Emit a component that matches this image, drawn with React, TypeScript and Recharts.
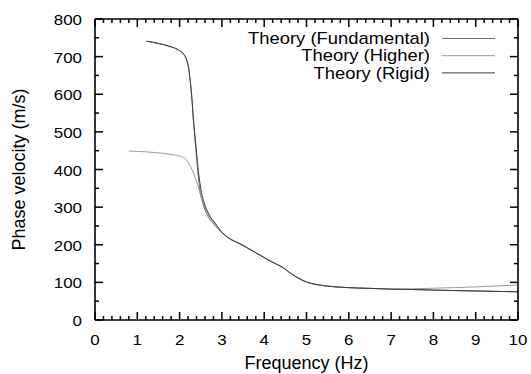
import React from 'react';
import { LineChart, Line, XAxis, YAxis } from 'recharts';

// dispersion curves: frequency (Hz) -> phase velocity (m/s)
const FUND_F = [1.22, 1.5, 1.8, 2.0, 2.1, 2.17, 2.22, 2.25, 2.29, 2.32, 2.36, 2.4, 2.44, 2.48, 2.55, 2.65, 2.8, 3.0, 3.2, 3.45, 3.7, 3.95, 4.15, 4.3, 4.45, 4.6, 4.75, 4.88, 5.0, 5.2, 5.5, 6.0, 6.5, 7.0, 7.5, 8.0, 9.0, 10.0];
const FUND_V = [741, 735, 726, 716, 706, 690, 665, 637, 590, 539, 485, 433, 385, 345, 310, 280, 256, 232, 215, 201, 185, 169, 156, 148, 139, 126, 115, 107, 101, 95, 90, 86, 84, 82, 81, 79.5, 77, 75];

const HIGH_F = [0.8, 1.2, 1.6, 1.9, 2.05, 2.2, 2.3, 2.38, 2.44, 2.5, 2.6, 2.7, 2.85, 3.0, 3.2, 3.45, 3.7, 3.95, 4.15, 4.3, 4.45, 4.6, 4.75, 4.88, 5.0, 5.2, 5.5, 6.0, 6.5, 7.0, 7.5, 8.0, 8.5, 9.0, 9.5, 10.0];
const HIGH_V = [449, 447, 443, 438, 434, 420, 398, 375, 355, 330, 300, 276, 253, 234, 216, 202, 186, 170, 157, 148, 139, 126, 115, 107, 101, 95, 90, 86, 84, 82.5, 83, 84.5, 86, 88, 90.5, 93];

const RIGID_F = [1.22, 1.5, 1.8, 2.0, 2.1, 2.17, 2.22, 2.25, 2.29, 2.33, 2.38, 2.43, 2.48, 2.53, 2.6, 2.7, 2.85, 3.0, 3.2, 3.45, 3.7, 3.95, 4.15, 4.3, 4.45, 4.6, 4.75, 4.88, 5.0, 5.2, 5.5, 6.0, 6.5, 7.0, 7.5, 8.0, 9.0, 10.0];
const RIGID_V = [741, 735, 726, 716, 706, 690, 665, 637, 590, 530, 470, 410, 365, 332, 305, 280, 256, 233, 215, 201, 185, 169, 156, 148, 139, 126, 115, 107, 101, 95, 90, 86, 84, 82, 81, 79.5, 77, 75];

const SERIES_NAMES = ['Theory (Fundamental)', 'Theory (Higher)', 'Theory (Rigid)'];
const SERIES_COLORS = ['#6e6e6e', '#9a9a9a', '#3c3c3c'];

const X_TICKS = Array.from({ length: 51 }, (_, i) => i / 5);
const Y_TICKS = Array.from({ length: 17 }, (_, i) => i * 50);

const toPoints = (fs: number[], vs: number[]) => fs.map((f, i) => ({ f, v: vs[i] }));
const SERIES = [toPoints(FUND_F, FUND_V), toPoints(HIGH_F, HIGH_V), toPoints(RIGID_F, RIGID_V)];

const W = 531;
const H = 374;
const MARGIN = { top: 19, right: 13, bottom: 0, left: 0 };
const Y_AXIS_W = 95;
const X_AXIS_H = 54;
const PLOT_W = W - MARGIN.right - Y_AXIS_W;
const PLOT_H = H - MARGIN.top - X_AXIS_H;

const FONT = '"Liberation Sans", Arial, Helvetica, sans-serif';
const isMajorX = (v: number) => Math.abs(v - Math.round(v)) < 1e-6;
const isMajorY = (v: number) => v % 100 === 0;

// bottom tick also mirrors itself onto the top edge of the frame
function BottomTick(props: any) {
  const { x, y, payload } = props;
  const len = isMajorX(payload.value) ? 8 : 4;
  const top = y - PLOT_H;
  return (
    <g>
      <path d={`M${x},${y}v${-len}`} stroke="#000" strokeWidth={1.5} fill="none" />
      <path d={`M${x},${top}v${len}`} stroke="#000" strokeWidth={1.5} fill="none" />
      {payload.value === 0 && <path d={`M${x},${top}h${PLOT_W}`} stroke="#000" strokeWidth={1.6} fill="none" />}
      {len === 8 && (
        <text transform={`translate(${x} ${y + 25}) scale(1.13 1)`} textAnchor="middle" fontSize={15} fontFamily={FONT} fill="#000">
          {Math.round(payload.value)}
        </text>
      )}
    </g>
  );
}

// left tick also mirrors itself onto the right edge of the frame
function LeftTick(props: any) {
  const { x, y, payload } = props;
  const len = isMajorY(payload.value) ? 8 : 4;
  const right = x + PLOT_W;
  return (
    <g>
      <path d={`M${x},${y}h${len}`} stroke="#000" strokeWidth={1.5} fill="none" />
      <path d={`M${right},${y}h${-len}`} stroke="#000" strokeWidth={1.5} fill="none" />
      {payload.value === 0 && <path d={`M${right},${y}v${-PLOT_H}`} stroke="#000" strokeWidth={1.6} fill="none" />}
      {len === 8 && (
        <text transform={`translate(${x - 13} ${y + 6}) scale(1.13 1)`} textAnchor="end" fontSize={15} fontFamily={FONT} fill="#000">
          {payload.value}
        </text>
      )}
    </g>
  );
}

function Overlay() {
  const yCx = 25;
  const yCy = MARGIN.top + PLOT_H / 2;
  return (
    <svg width={W} height={H} style={{ position: 'absolute', left: 0, top: 0, pointerEvents: 'none' }}>
      <text x={yCx} y={yCy} transform={`rotate(-90 ${yCx} ${yCy})`} textAnchor="middle" fontSize={18} fontFamily={FONT} fill="#000">
        Phase velocity (m/s)
      </text>
      <text x={Y_AXIS_W + PLOT_W / 2} y={MARGIN.top + PLOT_H + 49} textAnchor="middle" fontSize={18} fontFamily={FONT} fill="#000">
        Frequency (Hz)
      </text>
      {SERIES_NAMES.map((name, i) => {
        const cy = 38.5 + i * 17.2;
        return (
          <g key={name}>
            <text transform={`translate(430 ${cy + 5.7}) scale(1.15 1)`} textAnchor="end" fontSize={16} fontFamily={FONT} fill="#000">
              {name}
            </text>
            <line x1={442} x2={495} y1={cy} y2={cy} stroke={SERIES_COLORS[i]} strokeWidth={1} />
          </g>
        );
      })}
    </svg>
  );
}

export default function App() {
  const axisLine = { stroke: '#000', strokeWidth: 1.6 };
  return (
    <div style={{ position: 'absolute', left: 0, top: 0, width: W, height: H, background: '#fff', fontFamily: FONT }}>
      <LineChart width={W} height={H} margin={MARGIN}>
        <XAxis
          xAxisId="bottom"
          dataKey="f"
          type="number"
          domain={[0, 10]}
          ticks={X_TICKS}
          interval={0}
          height={X_AXIS_H}
          tickSize={0}
          tickMargin={0}
          tickLine={false}
          axisLine={axisLine}
          tick={<BottomTick />}
          allowDataOverflow
        />
        <YAxis
          yAxisId="left"
          type="number"
          domain={[0, 800]}
          ticks={Y_TICKS}
          interval={0}
          width={Y_AXIS_W}
          tickSize={0}
          tickMargin={0}
          tickLine={false}
          axisLine={axisLine}
          tick={<LeftTick />}
          allowDataOverflow
        />
        {SERIES.map((pts, i) => (
          <Line
            key={SERIES_NAMES[i]}
            xAxisId="bottom"
            yAxisId="left"
            data={pts}
            dataKey="v"
            name={SERIES_NAMES[i]}
            type="monotone"
            stroke={SERIES_COLORS[i]}
            strokeWidth={1}
            dot={false}
            isAnimationActive={false}
          />
        ))}
      </LineChart>
      <Overlay />
    </div>
  );
}
